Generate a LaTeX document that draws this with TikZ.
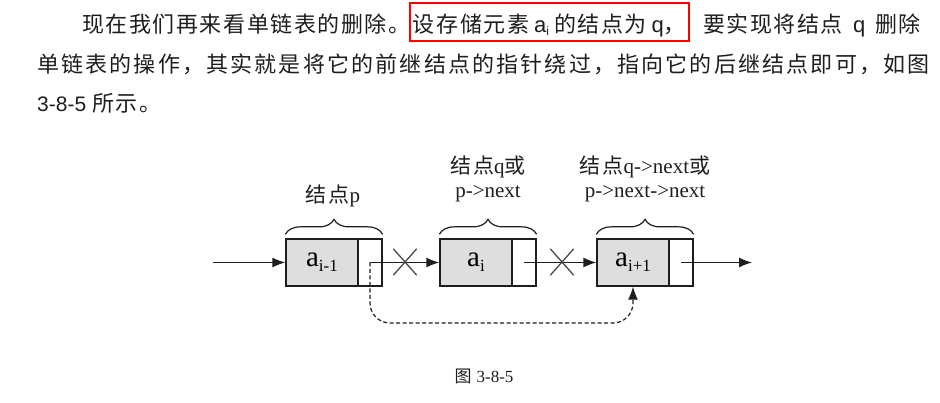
\documentclass[tikz,border=0pt]{standalone}
\usepackage{fontspec}
\newfontfamily\cjkA{Noto Sans CJK SC}[LetterSpace=7.1]
\newfontfamily\cjkB{Noto Sans CJK SC}[LetterSpace=9.9]
\newfontfamily\cjkL{Noto Sans CJK SC}[LetterSpace=8]
\newfontfamily\cjkC{Noto Sans CJK SC}
\newfontfamily\lsans{Liberation Sans}
\newfontfamily\lserif{Liberation Serif}
\usetikzlibrary{arrows.meta,decorations.pathreplacing,shapes.misc}
\definecolor{ink}{HTML}{1E1E1E}
\definecolor{cellgray}{HTML}{DEDEDE}
\begin{document}
\begin{tikzpicture}[x=1pt,y=-1pt,
  txt/.style={inner sep=0pt, text=ink, font=\fontsize{22}{26}\selectfont},
  dcell/.style={draw=ink, line width=1.3pt, fill=cellgray, minimum width=72pt, minimum height=47pt, inner sep=0pt, font=\lserif\fontsize{29}{30}\selectfont},
  pcell/.style={draw=ink, line width=1.3pt, minimum width=24pt, minimum height=47pt, inner sep=0pt},
  arr/.style={draw=ink, line width=1.3pt, -{Latex[length=13pt,width=10pt]}},
  xmark/.style={cross out, draw=black!70, line width=1.3pt, minimum width=22pt, minimum height=25pt, inner sep=0pt},
  bracedeco/.style={draw=ink, line width=1.2pt, decorate, decoration={brace, amplitude=15pt, aspect=0.5}},
  lbl/.style={inner sep=0pt, text=ink, font=\fontsize{21}{24}\selectfont},
  dashline/.style={draw=ink, line width=1.2pt, dash pattern=on 4pt off 2.5pt, rounded corners=20pt, -{Latex[length=13pt,width=10pt]}}
]
\useasboundingbox[fill=white] (0,0) rectangle (940,403);

% paragraph text
\node[txt, anchor=base west] (l1a) at (82,33) {\cjkA 现在我们再来看单链表的删除。};
\node[txt, anchor=base west, draw=red, line width=1.8pt, inner xsep=3pt, inner ysep=2pt, text height=28pt, text depth=6pt] (l1b) at (409,33)
  {\cjkA 设存储元素\hspace{5pt}\lsans a\raisebox{-3pt}{\fontsize{12}{12}\selectfont i}\hspace{5pt}\cjkA 的结点为\hspace{5pt}\lsans q\cjkA ，};
\node[txt, anchor=base west] (l1c) at (703,33)
  {\cjkA 要实现将结点\hspace{10pt}\lsans q\hspace{10pt}\cjkA 删除};
\node[txt, anchor=base west] (l2) at (37,73) {\cjkB 单链表的操作，其实就是将它的前继结点的指针绕过，指向它的后继结点即可，如图};
\node[txt, anchor=base west] (l3) at (37,112) {{\lsans\fontsize{21}{24}\selectfont 3-8-5}\hspace{6pt}\cjkA 所示。};

% list cells
\node[dcell] (d1) at (322,262.5) {a\raisebox{-5pt}{\fontsize{17}{17}\selectfont i-1}};
\node[pcell] (p1) at (370,262.5) {};
\node[dcell] (d2) at (476,262.5) {a\raisebox{-5pt}{\fontsize{17}{17}\selectfont i}};
\node[pcell] (p2) at (524,262.5) {};
\node[dcell] (d3) at (633,262.5) {a\raisebox{-5pt}{\fontsize{17}{17}\selectfont i+1}};
\node[pcell] (p3) at (681,262.5) {};

% braces
\draw[bracedeco] ([yshift=4pt]d1.north west) -- ([yshift=4pt]p1.north east);
\draw[bracedeco] ([yshift=4pt]d2.north west) -- ([yshift=4pt]p2.north east);
\draw[bracedeco] ([yshift=4pt]d3.north west) -- ([yshift=4pt]p3.north east);

% labels
\node[lbl] (lp) at (333,196) {\cjkL 结点\lserif p};
\node[lbl, align=center] (lq) at (488,179) {\cjkL 结点\lserif q\cjkL 或\\ \lserif p->next};
\node[lbl, align=center] (lqn) at (645,179) {\cjkL 结点\lserif q->next\cjkL 或\\ \lserif p->next->next};

% connectors
\coordinate (in0) at (213,262.5);
\coordinate (out0) at (752,262.5);
\draw[arr] (in0) -- (d1.west);
\draw[arr] (p1.center) -- (d2.west);
\draw[arr] (p2.center) -- (d3.west);
\draw[arr] (p3.center) -- (out0);
\node[xmark] (x1) at (405,262) {};
\node[xmark] (x2) at (562,262) {};

\coordinate (dl) at (370,323);
\coordinate (dr) at (633,323);
\draw[dashline] (p1.center) -- (dl) -- (dr) -- (d3.south);

% caption
\node[inner sep=0pt, text=ink, font=\fontsize{17}{20}\selectfont] (cap) at (484,376) {\cjkC 图\hspace{5pt}\lserif 3-8-5};
\end{tikzpicture}
\end{document}
